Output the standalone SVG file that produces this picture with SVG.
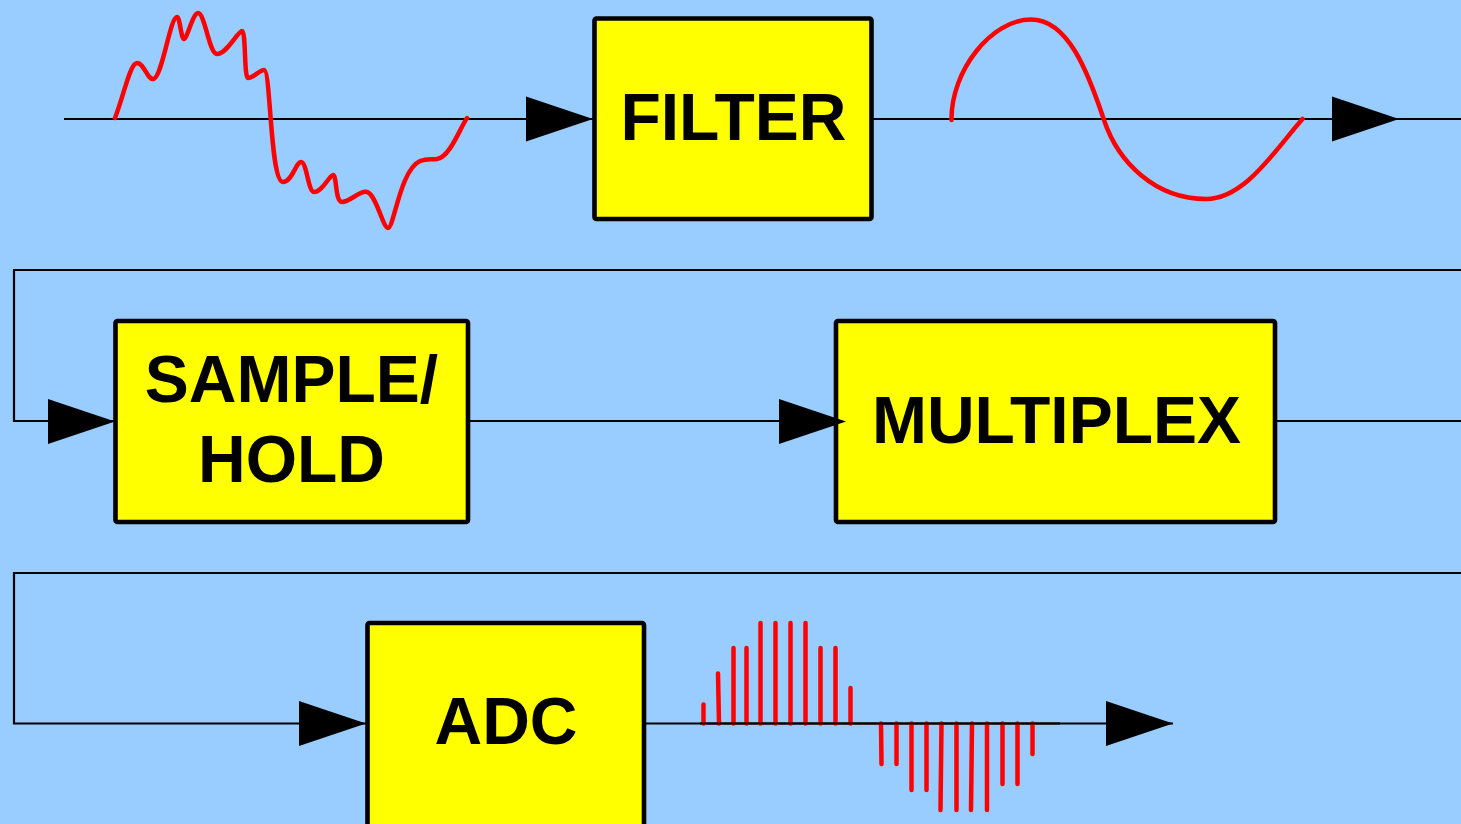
<svg xmlns="http://www.w3.org/2000/svg" xmlns:xlink="http://www.w3.org/1999/xlink" width="1461" height="824" viewBox="0 0 1461 824">
<style>
.bg{fill:#99CCFF}
.box{fill:#FFFF00;stroke:#000;stroke-width:4.6;stroke-linejoin:round}
.lbl{font-family:"Liberation Sans",Arial,Helvetica,sans-serif;font-weight:bold;font-size:66px;fill:#000;text-anchor:middle}
.ln{fill:none;stroke:#000;stroke-width:2.2}
.ah{fill:#000}
.wave{fill:none;stroke:#FF0000;stroke-width:4.5;stroke-linecap:round;stroke-linejoin:round}
.bar{stroke:#FF0000;stroke-width:4.5;stroke-linecap:round}
</style>
<defs>
<polygon id="arrow" class="ah" points="0,-22.5 67,0 0,22.5"/>
</defs>
<rect class="bg" x="0" y="0" width="1461" height="824"/>
<g id="connectors">
<path class="ln" d="M64,119 H594 M872,119 H1461"/>
<path class="ln" d="M1461,270 H14 V421 H115 M468,421 H836 M1275,421 H1461"/>
<path class="ln" d="M1461,573 H14 V723.5 H367 M644,723.5 H1173"/>
</g>
<g id="signals">
<path class="wave" d="M115,118 C124,95 130,63 137,63 C144,63 147,79 153,79 C162,79 170,17 177,17 C180,17 181,39 184,39 C187,39 193,13 198,13 C205,13 209,54 217,54 C227,54 238,31 242,31 C246,31 244,78 248,78 C253,78 260,70 264,70 C271,70 270,182 283,182 C292,182 296,162 301,162 C307,162 308,192 314,192 C322,192 330,175 333,175 C337,175 335,202 342,202 C350,202 360,190 367,192 C376,194 383,228 388,228 C394,228 400,170 420,161 C428,158 432,160 437,159 C450,157 460,128 467,118"/>
<path class="wave" d="M951.5,120 C951,70 992,19.5 1031,19.5 C1068,19.5 1088,72 1104,120 C1118,162 1155,199 1206,199 C1245,199 1275,150 1302.5,119"/>
<g id="samples">
<line class="bar" x1="703.5" y1="723.5" x2="703.5" y2="704.5"/>
<line class="bar" x1="719" y1="723.5" x2="718" y2="673.5"/>
<line class="bar" x1="733.5" y1="723.5" x2="733.5" y2="648"/>
<line class="bar" x1="746.5" y1="723.5" x2="746.5" y2="648"/>
<line class="bar" x1="760.5" y1="723.5" x2="760.5" y2="623"/>
<line class="bar" x1="775.5" y1="723.5" x2="775.5" y2="623"/>
<line class="bar" x1="790.5" y1="723.5" x2="790.5" y2="623"/>
<line class="bar" x1="805.5" y1="723.5" x2="805.5" y2="623"/>
<line class="bar" x1="820.5" y1="723.5" x2="820.5" y2="648"/>
<line class="bar" x1="835.5" y1="723.5" x2="835.5" y2="648"/>
<line class="bar" x1="850.5" y1="723.5" x2="850.5" y2="688"/>
<line class="bar" x1="881" y1="723.5" x2="881.5" y2="764"/>
<line class="bar" x1="896.5" y1="723.5" x2="896.5" y2="764"/>
<line class="bar" x1="911.5" y1="723.5" x2="911.5" y2="790"/>
<line class="bar" x1="926.5" y1="723.5" x2="926.5" y2="790"/>
<line class="bar" x1="941.5" y1="723.5" x2="940.5" y2="810"/>
<line class="bar" x1="956.5" y1="723.5" x2="956.5" y2="810"/>
<line class="bar" x1="972" y1="723.5" x2="971" y2="810"/>
<line class="bar" x1="987" y1="723.5" x2="987" y2="810"/>
<line class="bar" x1="1002.5" y1="723.5" x2="1002.5" y2="784"/>
<line class="bar" x1="1017.5" y1="723.5" x2="1017.5" y2="784"/>
<line class="bar" x1="1032.5" y1="723.5" x2="1032.5" y2="754"/>
</g>
<path class="ln" d="M700,723.5 H1060"/>
</g>
<g id="filter">
<rect class="box" x="594.5" y="18.5" width="277" height="200.5" rx="2"/>
<text class="lbl" x="733.5" y="139.5">FILTER</text>
</g>
<g id="sample-hold">
<rect class="box" x="115.5" y="321" width="352.5" height="201" rx="2"/>
<text class="lbl" x="291.5" y="402">SAMPLE/</text>
<text class="lbl" x="291.5" y="482">HOLD</text>
</g>
<g id="multiplex">
<rect class="box" x="836" y="321" width="439" height="201" rx="2"/>
<text class="lbl" x="1056.5" y="442.5">MULTIPLEX</text>
</g>
<g id="adc">
<rect class="box" x="367.5" y="623" width="276.5" height="210" rx="2"/>
<text class="lbl" x="506" y="744">ADC</text>
</g>
<g id="arrowheads">
<use xlink:href="#arrow" x="526" y="119"/>
<use xlink:href="#arrow" x="1332" y="119"/>
<use xlink:href="#arrow" x="48" y="421.5"/>
<use xlink:href="#arrow" x="779" y="421.5"/>
<use xlink:href="#arrow" x="299" y="723.5"/>
<use xlink:href="#arrow" x="1106" y="723.5"/>
</g>
</svg>
